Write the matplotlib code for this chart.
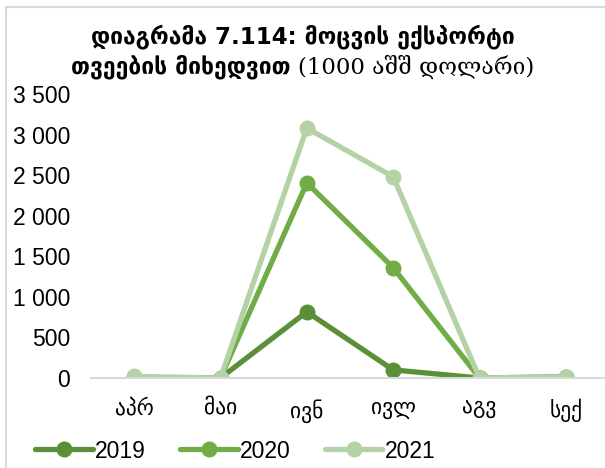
import matplotlib
matplotlib.use("Agg")
import matplotlib.pyplot as plt
from matplotlib.patches import Rectangle
from matplotlib.ticker import FuncFormatter, MultipleLocator

months = ["აპრ", "მაი", "ივნ", "ივლ", "აგვ", "სექ"]
series_names = ["2019", "2020", "2021"]
v2019 = [0, 0, 815, 100, 0, 15]
v2020 = [0, 0, 2405, 1360, 0, 0]
v2021 = [20, 0, 3080, 2480, 0, 15]
colors = ["#5b8f38", "#70ad47", "#b4d2a5"]

W, H = 605, 468
fig = plt.figure(figsize=(W / 100, H / 100), dpi=100)
fig.patch.set_facecolor("white")

# light chart border
fig.add_artist(Rectangle((6 / W, -0.05), 1.1, 1 - 7 / H + 0.05, transform=fig.transFigure,
                         fill=False, edgecolor="#d9d9d9", linewidth=1.5))

ax = fig.add_axes([91 / W, (H - 378) / H, 518 / W, (378 - 94) / H])
x = list(range(len(months)))
for vals, name, c in zip([v2019, v2020, v2021], series_names, colors):
    ax.plot(x, vals, color=c, linewidth=3.8, marker="o", markersize=10.5,
            markeredgecolor=c, markerfacecolor=c, label=name, solid_capstyle="round")

ax.set_xlim(-0.5, len(months) - 0.5)
ax.set_ylim(0, 3500)
ax.yaxis.set_major_locator(MultipleLocator(500))
ax.yaxis.set_major_formatter(FuncFormatter(lambda v, p: f"{int(v):,}".replace(",", " ")))
ax.set_xticks(x)
ax.set_xticklabels(months, family=["DejaVu Sans"], fontsize=15.5)
for lbl in ax.get_yticklabels():
    lbl.set_family(["Liberation Sans"])
    lbl.set_fontsize(16.5)
ax.tick_params(axis="y", length=0, pad=15)
ax.tick_params(axis="x", length=0, pad=15)
for s in ["top", "right", "left"]:
    ax.spines[s].set_visible(False)
ax.spines["bottom"].set_color("#d9d9d9")
ax.spines["bottom"].set_linewidth(1.5)
ax.set_clip_on(False)

# title
fig.text(0.5, 1 - 37 / H, "დიაგრამა 7.114: მოცვის ექსპორტი", ha="center", va="center",
         fontsize=16.5, fontweight="bold", family=["DejaVu Sans"])
bold_part = "თვეების მიხედვით "
reg_part = "(1000 აშშ დოლარი)"
fig.canvas.draw()
r = fig.canvas.get_renderer()
tb = fig.text(0, 0, bold_part, fontsize=16.5, fontweight="bold", family=["DejaVu Sans"])
tr = fig.text(0, 0, reg_part, fontsize=16.5, family=["DejaVu Serif", "DejaVu Sans"])
wb = tb.get_window_extent(r).width
wr = tr.get_window_extent(r).width
total = wb + wr
x0 = (W - total) / 2
y2 = 1 - 67 / H
tb.set_position((x0 / W, y2)); tb.set_va("center")
tr.set_position(((x0 + wb) / W, y2)); tr.set_va("center")

leg = fig.legend(loc="center left", bbox_to_anchor=(24 / W, 1 - 451 / H), ncol=3, frameon=False,
                 prop={"family": "Liberation Sans", "size": 16.5}, handlelength=2.5,
                 handletextpad=0.1, columnspacing=1.5, borderpad=0)

fig.savefig("out.png", dpi=100, facecolor="white")
